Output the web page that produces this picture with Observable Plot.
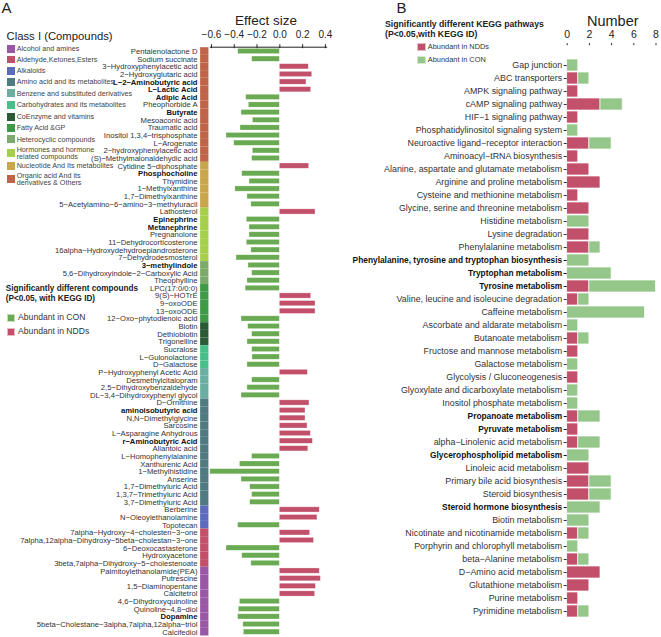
<!DOCTYPE html>
<html>
<head>
<meta charset="utf-8">
<script src="https://cdn.jsdelivr.net/npm/d3@7"></script>
<script src="https://cdn.jsdelivr.net/npm/@observablehq/plot@0.6"></script>
<style>
  html, body { margin: 0; padding: 0; background: #fff; }
  #root { position: relative; width: 661px; height: 637px; font-family: "Liberation Sans", Arial, sans-serif; color: #333; overflow: hidden; }
  #root svg { position: absolute; top: 0; }
  .abs { position: absolute; white-space: nowrap; }
  .legitem { display: flex; align-items: center; }
  .sw { display: inline-block; flex: none; box-sizing: border-box; }
</style>
</head>
<body>
<div id="root"></div>
<script>
// ---------------- Panel A data ----------------
const compounds = [
  "Pentalenolactone D","Sodium succinate","3−Hydroxyphenylacetic acid","2−Hydroxyglutaric acid","L−2−Aminobutyric acid","L−Lactic Acid","Adipic Acid","Pheophorbide A","Butyrate","Mesoaconic acid","Traumatic acid","Inositol 1,3,4−trisphosphate","L−Arogenate","2−hydroxyphenylacetic acid","(S)−Methylmalonaldehydic acid",
  "Cytidine 5−diphosphate","Phosphocholine","Thymidine","1−Methylxanthine","1,7−Dimethylxanthine","5−Acetylamino−6−amino−3−methyluracil",
  "Lathosterol","Epinephrine","Metanephrine","Pregnanolone","11−Dehydrocorticosterone","16alpha−Hydroxydehydroepiandrosterone","7−Dehydrodesmosterol",
  "3−methylindole","5,6−Dihydroxyindole−2−Carboxylic Acid","Theophylline",
  "LPC(17:0/0:0)","9(S)−HOTrE","9−oxoODE","13−oxoODE","12−Oxo−phytodienoic acid",
  "Biotin","Dethiobiotin","Trigonelline",
  "Sucralose","L−Gulonolactone","D−Galactose",
  "P−Hydroxyphenyl Acetic Acid","Desmethylcitalopram","2,5−Dihydroxybenzaldehyde","DL−3,4−Dihydroxyphenyl glycol",
  "D−Ornithine","aminoisobutyric acid","N,N−Dimethylglycine","Sarcosine","L−Asparagine Anhydrous","r−Aminobutyric Acid","Allantoic acid","L−Homophenylalanine","Xanthurenic Acid","1−Methylhistidine","Anserine","1,7−Dimethyluric Acid","1,3,7−Trimethyluric Acid","3,7−Dimethyluric Acid",
  "Berberine","N−Oleoylethanolamine","Topotecan",
  "7alpha−Hydroxy−4−cholesten−3−one","7alpha,12alpha−Dihydroxy−5beta−cholestan−3−one","6−Deoxocastasterone","Hydroxyacetone","3beta,7alpha−Dihydroxy−5−cholestenoate",
  "Palmitoylethanolamide(PEA)","Putrescine","1,5−Diaminopentane","Calcitetrol","4,6−Dihydroxyquinoline","Quinoline−4,8−diol","Dopamine","5beta−Cholestane−3alpha,7alpha,12alpha−triol","Calcifediol"
];
const effectSize = [
  -0.365,-0.243,0.254,0.284,0.234,0.275,-0.295,-0.272,-0.336,-0.237,-0.345,-0.468,-0.40,-0.237,-0.243,
  0.257,-0.33,-0.266,-0.39,-0.284,-0.25,
  0.313,-0.29,-0.266,-0.266,-0.29,-0.25,-0.38,
  -0.275,-0.243,-0.284,
  -0.30,0.275,0.313,0.313,-0.336,
  -0.278,-0.243,-0.284,
  -0.243,-0.24,-0.284,
  0.246,-0.243,-0.284,-0.336,
  0.26,0.225,0.225,0.243,0.272,0.29,0.25,-0.243,-0.35,-0.61,-0.336,-0.26,-0.243,-0.26,
  0.35,0.33,-0.366,
  0.266,0.30,-0.468,-0.33,-0.25,
  0.35,0.36,0.316,0.31,-0.35,-0.36,-0.366,-0.32,-0.316
];
const boldCompounds = ["L−2−Aminobutyric acid","L−Lactic Acid","Adipic Acid","Butyrate","Phosphocholine","Epinephrine","Metanephrine","3−methylindole","aminoisobutyric acid","r−Aminobutyric Acid","Dopamine"];
// classes in the order they appear along the axis, with how many compounds each holds
const classOrderAxis = ["Organic acid And its derivatives & Others","Nucleotide And Its metabolites","Hormones and hormone related compounds","Heterocyclic compounds","Fatty Acid &GP","CoEnzyme and vitamins","Carbohydrates and its metabolites","Benzene and substituted derivatives","Amino acid and its metabolites","Alkaloids","Aldehyde,Ketones,Esters","Alcohol and amines"];
const classCounts = [15,6,7,3,5,3,3,4,14,3,5,9];
// legend order
const classLegend = ["Alcohol and amines","Aldehyde,Ketones,Esters","Alkaloids","Amino acid and its metabolites","Benzene and substituted derivatives","Carbohydrates and its metabolites","CoEnzyme and vitamins","Fatty Acid &GP","Heterocyclic compounds","Hormones and hormone related compounds","Nucleotide And Its metabolites","Organic acid And its derivatives & Others"];
const classColors = ["#9A57A6","#C2506A","#5C6BBE","#507A82","#6AAFA2","#48BE8B","#2B5A36","#3E9A47","#7CAA6B","#A6CF4C","#C8A64B","#BF6449"];

// ---------------- Panel B data ----------------
const pathways = [
  "Gap junction","ABC transporters","AMPK signaling pathway","cAMP signaling pathway","HIF−1 signaling pathway","Phosphatidylinositol signaling system","Neuroactive ligand−receptor interaction","Aminoacyl−tRNA biosynthesis","Alanine, aspartate and glutamate metabolism","Arginine and proline metabolism","Cysteine and methionine metabolism","Glycine, serine and threonine metabolism","Histidine metabolism","Lysine degradation","Phenylalanine metabolism","Phenylalanine, tyrosine and tryptophan biosynthesis","Tryptophan metabolism","Tyrosine metabolism","Valine, leucine and isoleucine degradation","Caffeine metabolism","Ascorbate and aldarate metabolism","Butanoate metabolism","Fructose and mannose metabolism","Galactose metabolism","Glycolysis / Gluconeogenesis","Glyoxylate and dicarboxylate metabolism","Inositol phosphate metabolism","Propanoate metabolism","Pyruvate metabolism","alpha−Linolenic acid metabolism","Glycerophospholipid metabolism","Linoleic acid metabolism","Primary bile acid biosynthesis","Steroid biosynthesis","Steroid hormone biosynthesis","Biotin metabolism","Nicotinate and nicotinamide metabolism","Porphyrin and chlorophyll metabolism","beta−Alanine metabolism","D−Amino acid metabolism","Glutathione metabolism","Purine metabolism","Pyrimidine metabolism"
];
const nddCounts = [0,1,1,3,1,0,2,1,2,3,1,2,0,2,2,0,0,2,1,0,0,1,1,0,1,0,0,1,1,1,0,2,2,2,0,0,1,0,1,3,2,1,1];
const conCounts = [1,1,0,2,0,1,2,0,0,0,0,0,2,0,1,2,4,6,1,7,1,1,0,1,0,1,1,2,0,2,2,0,2,2,3,2,1,1,1,0,0,0,1];
const boldPathways = ["Phenylalanine, tyrosine and tryptophan biosynthesis","Tryptophan metabolism","Tyrosine metabolism","Propanoate metabolism","Pyruvate metabolism","Glycerophospholipid metabolism","Steroid hormone biosynthesis"];
const groupNames = ["Abundant in NDDs","Abundant in CON"];

// ---------------- colours ----------------
const RED = "#C2506A", GREEN_A = "#6AAA52", GREEN_B = "#95C78B";
const FONT = "'Liberation Sans', Arial, sans-serif";

// ---------------- build rows ----------------
const classOf = [];
classOrderAxis.forEach((c, i) => { for (let k = 0; k < classCounts[i]; k++) classOf.push(c); });
const colorOfClass = new Map(classLegend.map((c, i) => [c, classColors[i]]));
const rowsA = compounds.map((name, i) => ({name, effect: effectSize[i], cls: classOf[i], classColor: colorOfClass.get(classOf[i])}));

const rowsB = [];
pathways.forEach((p, i) => {
  rowsB.push({pathway: p, group: groupNames[0], n: nddCounts[i]});
  rowsB.push({pathway: p, group: groupNames[1], n: conCounts[i]});
});

const root = document.getElementById("root");

// ---------------- Panel A plot ----------------
const plotA = Plot.plot({
  width: 330, height: 637,
  marginLeft: 209.8, marginRight: 2.8, marginTop: 47.2, marginBottom: 1.5,
  style: {fontFamily: FONT, background: "transparent", overflow: "visible"},
  x: {domain: [-0.61, 0.42]},
  y: {domain: compounds, padding: 0, axis: null},
  marks: [
    Plot.barX(rowsA, {y: "name", x1: -0.695, x2: -0.622, fill: "classColor"}),
    Plot.barX(rowsA, {y: "name", x1: 0, x2: "effect", fill: d => d.effect > 0 ? RED : GREEN_A, insetTop: 1.2, insetBottom: 1.2, stroke: "#fff", strokeOpacity: 0.5, strokeWidth: 0.6}),
    Plot.axisX({anchor: "top", ticks: [-0.6, -0.4, -0.2, 0, 0.2, 0.4], tickFormat: d3.format(".1f"), tickSize: 4, tickPadding: 6, fontSize: 10, label: null, color: "#222"}),
    Plot.axisY({anchor: "left", ticks: compounds.filter(c => !boldCompounds.includes(c)), tickSize: 0, tickPadding: 12.8, fontSize: 7.65, label: null, color: "#333"}),
    Plot.axisY({anchor: "left", ticks: boldCompounds, tickSize: 0, tickPadding: 12.8, fontSize: 7.65, fontWeight: "bold", label: null, color: "#111"})
  ]
});
plotA.style.left = "0px";
root.appendChild(plotA);
// top axis line of panel A (from scale)
{
  const sx = plotA.scale("x"), sy = plotA.scale("y");
  const svg = d3.select(plotA);
  svg.append("line")
    .attr("x1", sx.apply(sx.domain[0])).attr("x2", sx.apply(sx.domain[1]))
    .attr("y1", sy.range[0]).attr("y2", sy.range[0])
    .attr("stroke", "#222").attr("stroke-width", 1);
}

// ---------------- Panel B plot ----------------
const plotB = Plot.plot({
  width: 331, height: 637,
  marginLeft: 236.7, marginRight: 5.5, marginTop: 44.2, marginBottom: 5,
  style: {fontFamily: FONT, background: "transparent", overflow: "visible"},
  x: {domain: [0, 8]},
  y: {domain: pathways, padding: 0.08, axis: null},
  color: {domain: groupNames, range: [RED, GREEN_B]},
  marks: [
    Plot.barX(rowsB, {y: "pathway", x: "n", fill: "group", stroke: "#fff", strokeWidth: 0.7}),
    Plot.axisX({anchor: "top", ticks: [0, 2, 4, 6, 8], tickSize: 2, tickPadding: 4.5, fontSize: 10.5, label: null, color: "#222"}),
    Plot.axisY({anchor: "left", ticks: pathways.filter(p => !boldPathways.includes(p)), tickSize: 3, tickPadding: 2, fontSize: 8.9, label: null, color: "#333"}),
    Plot.axisY({anchor: "left", ticks: boldPathways, tickSize: 3, tickPadding: 2, fontSize: 8.35, fontWeight: "bold", label: null, color: "#111"})
  ]
});
plotB.style.left = "330px";
root.appendChild(plotB);

// ---------------- HTML text & legends ----------------
function addText(txt, left, top, css) {
  const d = document.createElement("div");
  d.className = "abs";
  d.textContent = txt;
  d.style.left = left + "px";
  d.style.top = top + "px";
  Object.assign(d.style, css || {});
  root.appendChild(d);
  return d;
}
addText("A", 1.5, -1, {fontSize: "15px", color: "#222"});
addText("B", 396.5, -1, {fontSize: "15px", color: "#222"});
addText("Effect size", 235, 13, {fontSize: "13.5px", color: "#222"});
addText("Number", 587, 12.5, {fontSize: "14.5px", color: "#222"});
addText("Class I (Compounds)", 6.5, 30, {fontSize: "11.3px", color: "#222"});

// class legend (each entry vertically centred on its own line position)
const legendCenters = [49, 59.4, 70.7, 82, 93.3, 105, 116.7, 127.7, 139.3, 153.3, 166, 179.2];
const twoLine = {"Hormones and hormone related compounds": ["Hormones and hormone", "related compounds"],
                 "Organic acid And its derivatives & Others": ["Organic acid And its", "derivatives & Others"]};
classLegend.forEach((c, i) => {
  const lines = twoLine[c] ? 2 : 1;
  const lh = 7.4;
  const it = document.createElement("div");
  it.className = "abs legitem";
  Object.assign(it.style, {left: "7.3px", top: (legendCenters[i] - lines * lh / 2) + "px", height: (lines * lh) + "px"});
  const sw = document.createElement("span");
  sw.className = "sw";
  Object.assign(sw.style, {width: "7.7px", height: "7.7px", background: classColors[i], marginRight: "1.7px"});
  const t = document.createElement("span");
  Object.assign(t.style, {fontSize: "7.2px", lineHeight: lh + "px", color: "#444"});
  if (twoLine[c]) t.innerHTML = twoLine[c].join("<br>"); else t.textContent = c;
  it.appendChild(sw); it.appendChild(t);
  root.appendChild(it);
});

addText("Significantly different compounds", 5.7, 284, {fontSize: "8.2px", fontWeight: "bold", color: "#222"});
addText("(P<0.05, with KEGG ID)", 5.7, 293.5, {fontSize: "8.2px", fontWeight: "bold", color: "#222"});

function legendItem(label, color, left, top, sw, fs, gap) {
  const it = document.createElement("div");
  it.className = "abs legitem";
  Object.assign(it.style, {left: left + "px", top: top + "px"});
  const s = document.createElement("span");
  s.className = "sw";
  Object.assign(s.style, {width: sw[0] + "px", height: sw[1] + "px", background: color, border: "0.7px solid rgba(255,255,255,0.6)", marginRight: gap + "px"});
  const t = document.createElement("span");
  Object.assign(t.style, {fontSize: fs + "px", color: "#333", lineHeight: sw[1] + "px"});
  t.textContent = label;
  it.appendChild(s); it.appendChild(t);
  root.appendChild(it);
}
legendItem("Abundant in CON", GREEN_A, 7.3, 313.8, [7.8, 7.8], 8.6, 3);
legendItem("Abundant in NDDs", RED, 7.3, 327.8, [7.8, 7.8], 8.6, 3);

addText("Significantly different KEGG pathways", 385, 18.5, {fontSize: "8.7px", fontWeight: "bold", color: "#222"});
addText("(P<0.05,with KEGG ID)", 385, 28.5, {fontSize: "8.7px", fontWeight: "bold", color: "#222"});
legendItem("Abundant in NDDs", RED, 417, 43.3, [9, 8], 7.4, 1.8);
legendItem("Abundant in CON", GREEN_B, 417, 55.5, [9, 8], 7.4, 1.8);
</script>
</body>
</html>
